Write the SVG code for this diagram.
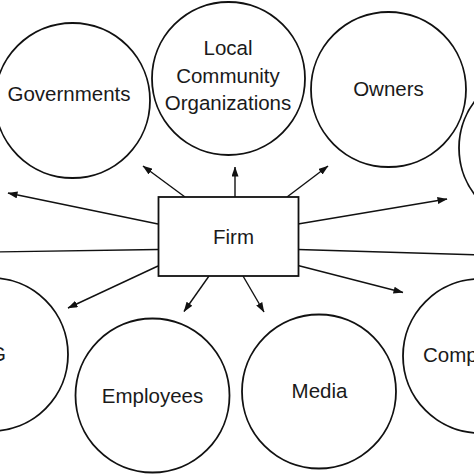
<svg xmlns="http://www.w3.org/2000/svg" width="474" height="474" viewBox="0 0 474 474">
<defs>
<marker id="ah" markerUnits="userSpaceOnUse" markerWidth="10" markerHeight="7" refX="9.5" refY="3.5" orient="auto">
<path d="M0,0 L10,3.5 L0,7 z" fill="#111"/>
</marker>
</defs>
<style>
.c{fill:#fff;stroke:#111;stroke-width:1.8}
.r{fill:#fff;stroke:#111;stroke-width:1.8}
.t{font-family:"Liberation Sans",Arial,sans-serif;font-size:20.5px;fill:#1a1a1a;text-anchor:middle}
.l{stroke:#111;stroke-width:1.4;fill:none}
.a{stroke:#111;stroke-width:1.4;fill:none;marker-end:url(#ah)}
</style>
<rect width="474" height="474" fill="#fff"/>
<g id="connectors">
<line class="a" x1="158" y1="224" x2="8" y2="193"/>
<line class="l" x1="158" y1="249.5" x2="-5" y2="252"/>
<line class="a" x1="158" y1="266" x2="68" y2="308"/>
<line class="a" x1="185" y1="197" x2="143" y2="166"/>
<line class="a" x1="235" y1="197" x2="235" y2="167"/>
<line class="a" x1="287" y1="197" x2="328" y2="166"/>
<line class="a" x1="298" y1="224" x2="447" y2="199"/>
<line class="l" x1="298" y1="249.5" x2="480" y2="255"/>
<line class="a" x1="298" y1="265.5" x2="403" y2="292.5"/>
<line class="a" x1="209" y1="276" x2="184" y2="311.5"/>
<line class="a" x1="243" y1="276" x2="264" y2="312"/>
</g>
<g id="governments">
<circle class="c" cx="72.5" cy="100.5" r="77.5"/>
<text class="t" x="69" y="101">Governments</text>
</g>
<g id="local-community">
<circle class="c" cx="228.5" cy="78.5" r="76.5"/>
<text class="t" x="228" y="55">Local</text>
<text class="t" x="228" y="82.5">Community</text>
<text class="t" x="228" y="110">Organizations</text>
</g>
<g id="owners">
<circle class="c" cx="388.5" cy="89.5" r="77.5"/>
<text class="t" x="388.5" y="96">Owners</text>
</g>
<g id="right-top">
<circle class="c" cx="536" cy="148" r="77"/>
</g>
<g id="firm">
<rect class="r" x="158.5" y="197" width="140" height="79"/>
<text class="t" x="233.5" y="243.5">Firm</text>
</g>
<g id="left-bottom">
<circle class="c" cx="-8.5" cy="354.5" r="76.5"/>
<text class="t" x="6" y="361" style="text-anchor:end">G</text>
</g>
<g id="employees">
<circle class="c" cx="152.5" cy="395.5" r="77"/>
<text class="t" x="152.5" y="403">Employees</text>
</g>
<g id="media">
<circle class="c" cx="319" cy="391.5" r="77"/>
<text class="t" x="319.5" y="398">Media</text>
</g>
<g id="comp">
<circle class="c" cx="480" cy="356" r="77"/>
<text class="t" x="423" y="362" style="text-anchor:start">Comp</text>
</g>
</svg>
